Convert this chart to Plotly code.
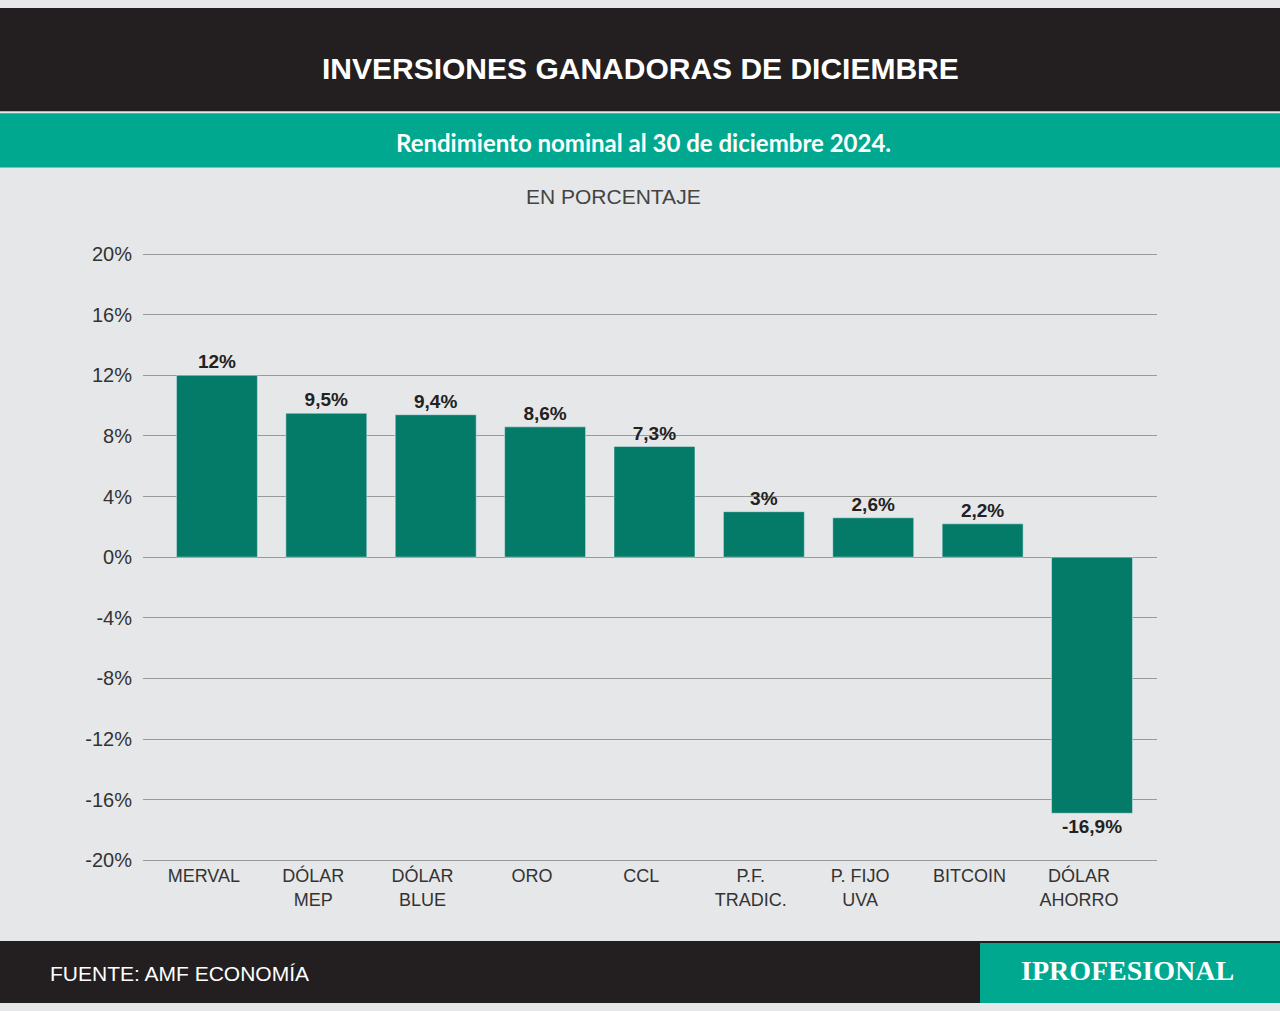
import plotly.graph_objects as go

categories = ["MERVAL", "DÓLAR<br>MEP", "DÓLAR<br>BLUE", "ORO", "CCL", "P.F.<br>TRADIC.", "P. FIJO<br>UVA", "BITCOIN", "DÓLAR<br>AHORRO"]
values = [12, 9.5, 9.4, 8.6, 7.3, 3, 2.6, 2.2, -16.9]
labels = ["<b>12%</b>", "<b>9,5%</b>", "<b>9,4%</b>", "<b>8,6%</b>", "<b>7,3%</b>", "<b>3%</b>", "<b>2,6%</b>", "<b>2,2%</b>", "<b>-16,9%</b>"]
yticks = [20, 16, 12, 8, 4, 0, -4, -8, -12, -16, -20]

F = "Liberation Sans Narrow, Arial Narrow, Liberation Sans, Arial"
fig = go.Figure(go.Bar(
    x=list(range(len(categories))), y=values, text=labels, textposition="outside",
    textfont=dict(family=F, size=19, color="#222"), marker_color="#047a68",
    width=0.74, cliponaxis=False))

def ann(text, x, y, size, family, xanchor="center"):
    return dict(text=text, x=x/1280, y=1-y/1011, xref="paper", yref="paper", xanchor=xanchor,
                yanchor="middle", showarrow=False, font=dict(family=family, size=size, color="white"))

fig.update_layout(
    width=1280, height=1011, margin=dict(l=0, r=0, t=0, b=0),
    paper_bgcolor="#e6e7e8", plot_bgcolor="#e6e7e8", showlegend=False,
    xaxis=dict(domain=[143/1280, 1157/1280], range=[-0.676, 8.594], tickmode="array",
               tickvals=[i - 0.12 for i in range(9)], ticktext=categories,
               tickfont=dict(family=F, size=18, color="#333"), showgrid=False, zeroline=False,
               showline=False, ticks=""),
    yaxis=dict(domain=[1-869/1011, 1-247/1011], range=[-20.2, 20.2], tickmode="array",
               tickvals=yticks, ticktext=[f"{v}%" for v in yticks], ticklabelstandoff=10,
               tickfont=dict(family=F, size=20, color="#333"), gridcolor="#9a9a9a",
               gridwidth=1, zeroline=False, showline=False),
    shapes=[
        dict(type="rect", xref="paper", yref="paper", x0=0, x1=1, y0=1-105/1011, y1=1, fillcolor="#231f20", line_width=0, layer="below"),
        dict(type="rect", xref="paper", yref="paper", x0=0, x1=1, y0=1-162/1011, y1=1-107/1011, fillcolor="#00a88f", line_width=0, layer="below"),
        dict(type="rect", xref="paper", yref="paper", x0=0, x1=1, y0=0, y1=1-948/1011, fillcolor="#231f20", line_width=0, layer="below"),
        dict(type="rect", xref="paper", yref="paper", x0=980/1280, x1=1, y0=0, y1=1-950/1011, fillcolor="#00a88f", line_width=0, layer="below"),
    ],
    annotations=[
        ann("<b>INVERSIONES GANADORAS DE DICIEMBRE</b>", 640, 61, 30, F),
        ann("<b>Rendimiento nominal al 30 de diciembre 2024.</b>", 643, 137, 24, "Lato, Open Sans"),
        dict(text="EN PORCENTAJE", x=613/1280, y=1-192/1011, xref="paper", yref="paper", xanchor="center", yanchor="middle", showarrow=False, font=dict(family=F, size=21, color="#444")),
        ann("FUENTE: AMF ECONOMÍA", 48, 981, 21, "Liberation Sans, Arial", "left"),
        ann("<b>IPROFESIONAL</b>", 1127, 978, 28, "Liberation Serif, Times New Roman"),
    ],
)
fig.write_html("out.html", config={"displayModeBar": False},
               post_script="document.body.style.margin='0';var g=document.getElementById('{plot_id}');g.style.position='fixed';g.style.top='0';g.style.left='0';")
